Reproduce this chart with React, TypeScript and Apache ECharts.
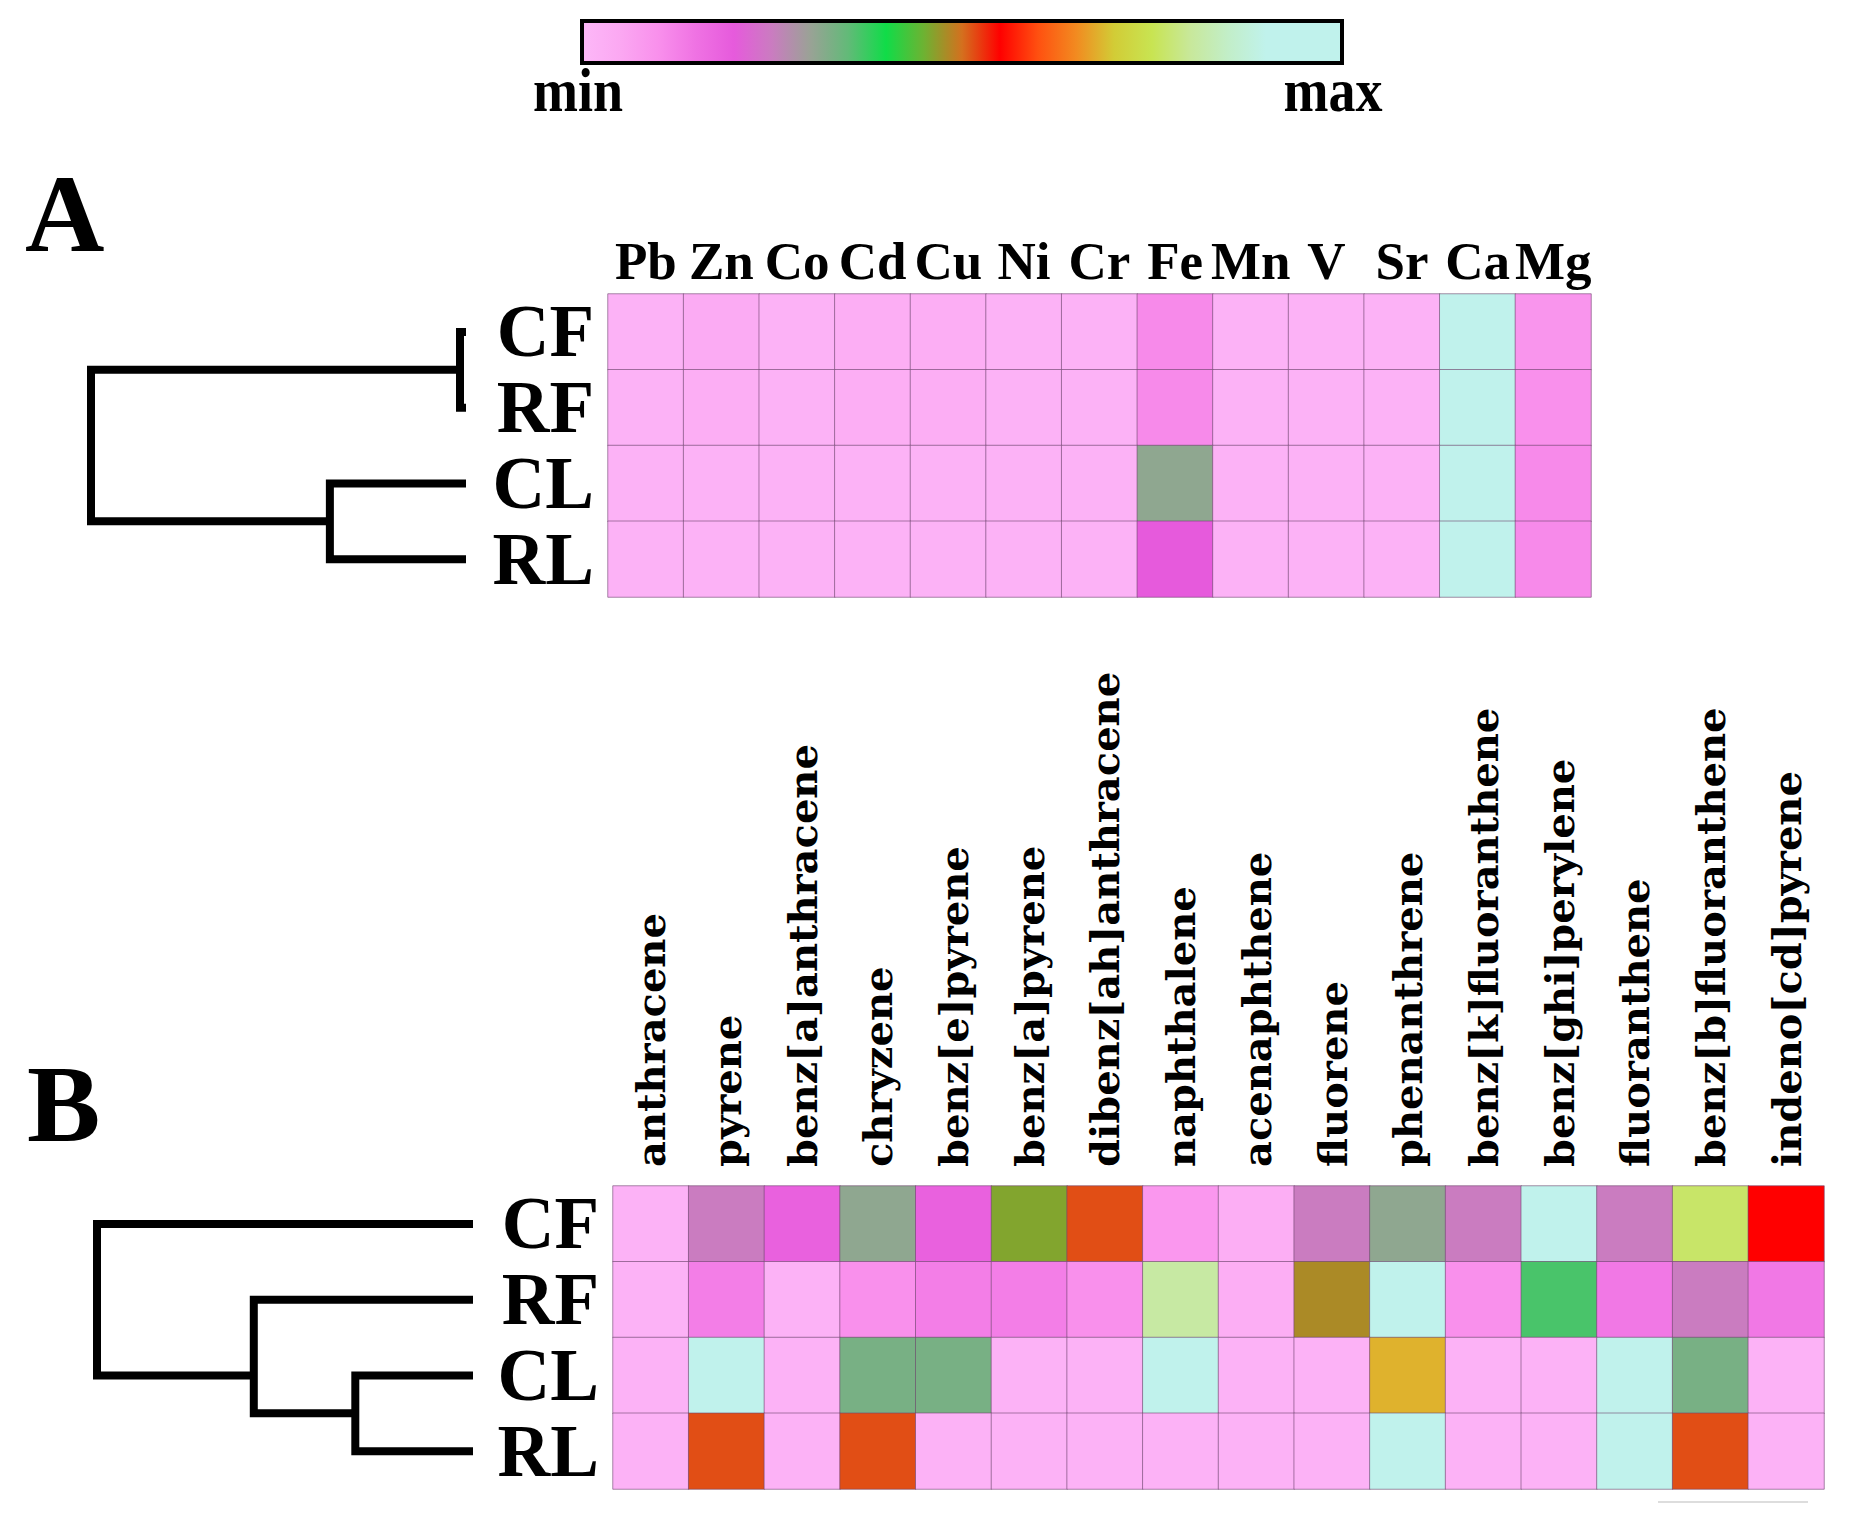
import React, { useEffect, useRef } from "react";
import * as echarts from "echarts";

// ---------- data ----------
const ROWS = ["CF", "RF", "CL", "RL"];
const METALS = ["Pb", "Zn", "Co", "Cd", "Cu", "Ni", "Cr", "Fe", "Mn", "V", "Sr", "Ca", "Mg"];
const PAHS = [
  "anthracene", "pyrene", "benz[a]anthracene", "chryzene", "benz[e]pyrene", "benz[a]pyrene",
  "dibenz[ah]anthracene", "naphthalene", "acenaphthene", "fluorene", "phenanthrene",
  "benz[k]fluoranthene", "benz[ghi]perylene", "fluoranthene", "benz[b]fluoranthene", "indeno[cd]pyrene",
];

// relative level (0 = min, 1 = max) per row, metals
const METAL_CF = [0.02, 0.04, 0.02, 0.03, 0.03, 0.02, 0.02, 0.11, 0.02, 0.02, 0.02, 0.95, 0.09];
const METAL_RF = [0.02, 0.03, 0.02, 0.03, 0.03, 0.02, 0.02, 0.11, 0.02, 0.02, 0.02, 0.95, 0.10];
const METAL_CL = [0.02, 0.02, 0.02, 0.02, 0.02, 0.02, 0.02, 0.31, 0.02, 0.02, 0.02, 0.95, 0.11];
const METAL_RL = [0.02, 0.02, 0.02, 0.02, 0.02, 0.02, 0.02, 0.20, 0.02, 0.02, 0.02, 0.95, 0.11];

// relative level per row, PAHs
const PAH_CF = [0.02, 0.25, 0.185, 0.31, 0.185, 0.46, 0.515, 0.085, 0.03, 0.25, 0.31, 0.25, 0.95, 0.25, 0.765, 0.55];
const PAH_RF = [0.02, 0.13, 0.02, 0.10, 0.13, 0.13, 0.10, 0.81, 0.03, 0.48, 0.95, 0.10, 0.365, 0.14, 0.25, 0.14];
const PAH_CL = [0.02, 0.95, 0.02, 0.33, 0.33, 0.02, 0.02, 0.95, 0.02, 0.02, 0.68, 0.02, 0.02, 0.95, 0.33, 0.02];
const PAH_RL = [0.02, 0.515, 0.02, 0.515, 0.02, 0.02, 0.02, 0.02, 0.02, 0.02, 0.95, 0.02, 0.02, 0.95, 0.515, 0.02];

// linkage [childA, childB, height] (leaves 0..3, merged nodes 4..)
const LINKAGE_A = [[0, 1, 0.016], [2, 3, 0.363], [4, 5, 1]];
const LINKAGE_B = [[2, 3, 0.313], [1, 4, 0.583], [0, 5, 1]];

// colour scale, evenly spaced from min to max
const SCALE_COLORS = [
  "#FDB8F8", "#FBA8F2", "#F990EC", "#EF72E3", "#E65ADC", "#CA7CC0", "#9AA296",
  "#62BA78", "#10DC48", "#6EB232", "#D4701E", "#FF0000", "#FF5010", "#F28A20",
  "#D2CC36", "#C8E452", "#C8E89A", "#C2EEC8", "#C0F2EC", "#C0F2EC", "#C0F2EC",
];
const SCALE_LABELS = ["min", "max"];

// ---------- helpers ----------
function toCells(rows: number[][]) {
  const out: number[][] = [];
  rows.forEach((r, ri) => r.forEach((v, ci) => out.push([ci, ri, v])));
  return out;
}

function dendroCoords(linkage: number[][], n: number) {
  const nodes: { y: number; h: number; leaves: number[] }[] = [];
  for (let i = 0; i < n; i++) nodes.push({ y: i, h: 0, leaves: [i] });
  const lines: any[] = [];
  linkage.forEach(([a, b, h]) => {
    const A = nodes[a];
    const B = nodes[b];
    const leaves = A.leaves.concat(B.leaves);
    const y = leaves.reduce((s, v) => s + v, 0) / leaves.length;
    nodes.push({ y, h, leaves });
    lines.push({ coords: [[A.h, A.y], [h, A.y], [h, B.y], [B.h, B.y]] });
  });
  return lines;
}

const SERIF = '"Liberation Serif", "Times New Roman", serif';

export default function App() {
  const ref = useRef<HTMLDivElement>(null);

  useEffect(() => {
    document.body.style.margin = "0";
    const chart = echarts.init(ref.current!, undefined, { renderer: "svg" });

    const gridA = { left: 608, top: 294, width: 983, height: 303 };
    const gridB = { left: 613, top: 1186, width: 1211, height: 303 };
    const dendA = { left: 91, top: 294, width: 375, height: 303 };
    const dendB = { left: 97, top: 1186, width: 376, height: 303 };

    const rowLabel = {
      interval: 0, fontFamily: SERIF, fontWeight: "bold", fontSize: 73, color: "#000", margin: 14,
    };

    const dendX = (gi: number) => ({
      type: "value", gridIndex: gi, min: 0, max: 1, inverse: true, show: false,
    });
    const dendY = (gi: number) => ({
      type: "value", gridIndex: gi, min: -0.5, max: 3.5, inverse: true, show: false,
    });

    const gradStops = SCALE_COLORS.map((c, i) => ({ offset: i / (SCALE_COLORS.length - 1), color: c }));
    const dendStyle = { color: "#000", width: 8, opacity: 1, cap: "butt", join: "miter" };

    chart.setOption({
      animation: false,
      backgroundColor: "#fff",
      grid: [gridA, gridB, dendA, dendB],
      xAxis: [
        {
          type: "category", gridIndex: 0, data: METALS, position: "top",
          axisLine: { show: false }, axisTick: { show: false }, splitLine: { show: false },
          axisLabel: { interval: 0, fontFamily: SERIF, fontWeight: "bold", fontSize: 53, color: "#000", margin: 7 },
        },
        {
          type: "category", gridIndex: 1, data: PAHS, position: "top",
          axisLine: { show: false }, axisTick: { show: false }, splitLine: { show: false },
          axisLabel: {
            interval: 0, rotate: -90, fontFamily: '"DejaVu Serif", serif', fontWeight: "bold",
            fontSize: 40, color: "#000", margin: 19,
          },
        },
        dendX(2),
        dendX(3),
      ],
      yAxis: [
        {
          type: "category", gridIndex: 0, data: ROWS, inverse: true,
          axisLine: { show: false }, axisTick: { show: false }, axisLabel: rowLabel,
        },
        {
          type: "category", gridIndex: 1, data: ROWS, inverse: true,
          axisLine: { show: false }, axisTick: { show: false }, axisLabel: rowLabel,
        },
        dendY(2),
        dendY(3),
      ],
      visualMap: {
        type: "continuous", show: false, min: 0, max: 1, seriesIndex: [0, 1],
        inRange: { color: SCALE_COLORS },
      },
      series: [
        {
          type: "heatmap", xAxisIndex: 0, yAxisIndex: 0,
          data: toCells([METAL_CF, METAL_RF, METAL_CL, METAL_RL]),
          itemStyle: { borderColor: "rgba(110,70,110,0.6)", borderWidth: 1 },
        },
        {
          type: "heatmap", xAxisIndex: 1, yAxisIndex: 1,
          data: toCells([PAH_CF, PAH_RF, PAH_CL, PAH_RL]),
          itemStyle: { borderColor: "rgba(110,70,110,0.6)", borderWidth: 1 },
        },
        {
          type: "lines", coordinateSystem: "cartesian2d", xAxisIndex: 2, yAxisIndex: 2,
          polyline: true, silent: true, lineStyle: dendStyle,
          data: dendroCoords(LINKAGE_A, ROWS.length),
        },
        {
          type: "lines", coordinateSystem: "cartesian2d", xAxisIndex: 3, yAxisIndex: 3,
          polyline: true, silent: true, lineStyle: dendStyle,
          data: dendroCoords(LINKAGE_B, ROWS.length),
        },
      ],
      graphic: [
        {
          type: "rect", shape: { x: 582, y: 21, width: 760, height: 42 },
          style: {
            fill: { type: "linear", x: 0, y: 0, x2: 1, y2: 0, colorStops: gradStops },
            stroke: "#000", lineWidth: 4,
          },
        },
        {
          type: "text", x: 578, y: 90, scaleY: 1.15,
          style: { text: SCALE_LABELS[0], font: `bold 54px ${SERIF}`, fill: "#000", align: "center", verticalAlign: "middle" },
        },
        {
          type: "text", x: 1333, y: 90, scaleY: 1.15,
          style: { text: SCALE_LABELS[1], font: `bold 54px ${SERIF}`, fill: "#000", align: "center", verticalAlign: "middle" },
        },
        {
          type: "text", x: 25, y: 214,
          style: { text: "A", font: `bold 110px ${SERIF}`, fill: "#000", align: "left", verticalAlign: "middle" },
        },
        {
          type: "text", x: 27, y: 1104,
          style: { text: "B", font: `bold 110px ${SERIF}`, fill: "#000", align: "left", verticalAlign: "middle" },
        },
        {
          type: "line", shape: { x1: 1658, y1: 1502, x2: 1808, y2: 1502 },
          style: { stroke: "#dddddd", lineWidth: 2 },
        },
      ],
    });

    return () => chart.dispose();
  }, []);

  return <div ref={ref} style={{ width: 1855, height: 1520 }} />;
}
